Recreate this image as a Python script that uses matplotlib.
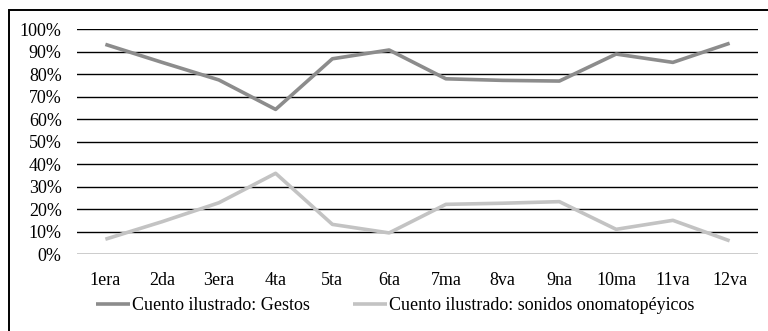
import matplotlib
matplotlib.use("Agg")
import matplotlib.pyplot as plt
from matplotlib.patches import Rectangle
from matplotlib.ticker import FuncFormatter

categories = ["1era", "2da", "3era", "4ta", "5ta", "6ta", "7ma", "8va", "9na", "10ma", "11va", "12va"]
gestos = [93.3, 85.3, 77.5, 64.4, 86.9, 90.8, 78.0, 77.3, 77.0, 89.0, 85.3, 93.8]
sonidos = [6.7, 14.5, 22.9, 36.0, 13.3, 9.5, 22.2, 22.7, 23.4, 11.1, 15.1, 6.0]
yticks = [0, 10, 20, 30, 40, 50, 60, 70, 80, 90, 100]

plt.rcParams['font.family'] = ['Liberation Serif', 'DejaVu Serif']

W, H = 768, 331
fig = plt.figure(figsize=(W / 100, H / 100), dpi=100)
ax = fig.add_axes([77 / W, 1 - 254.3 / H, (758 - 77) / W, (254.3 - 29.3) / H])

x = list(range(len(categories)))
ax.plot(x, gestos, color="#8c8c8c", lw=2.6, solid_capstyle="butt", label="Cuento ilustrado: Gestos", zorder=3)
ax.plot(x, sonidos, color="#c3c3c3", lw=2.6, solid_capstyle="butt", label="Cuento ilustrado: sonidos onomatopéyicos", zorder=3)

ax.set_xlim(-0.5, len(categories) - 0.5)
ax.set_ylim(0, 100)
ax.set_yticks(yticks)
ax.yaxis.set_major_formatter(FuncFormatter(lambda v, p: f"{int(v)}%"))
ax.set_xticks(x)
ax.set_xticklabels(categories)
for s in ax.spines.values():
    s.set_visible(False)
ax.grid(axis="y", color="black", lw=1.0, zorder=1)
ax.tick_params(axis="both", length=0, labelsize=13, colors="black")
ax.tick_params(axis="y", pad=11)
ax.tick_params(axis="x", pad=13)

leg = fig.legend(loc="center", bbox_to_anchor=(395 / W, 1 - 306 / H), ncol=2, frameon=False,
                 fontsize=13, handlelength=1.9, handletextpad=0.1, columnspacing=2.4)

fig.patches.append(Rectangle((8.5 / W, -0.1), 1.2, 1 - 10 / H + 0.1, transform=fig.transFigure,
                             fill=False, edgecolor="black", lw=1.4))

fig.savefig("out.png", dpi=100)
